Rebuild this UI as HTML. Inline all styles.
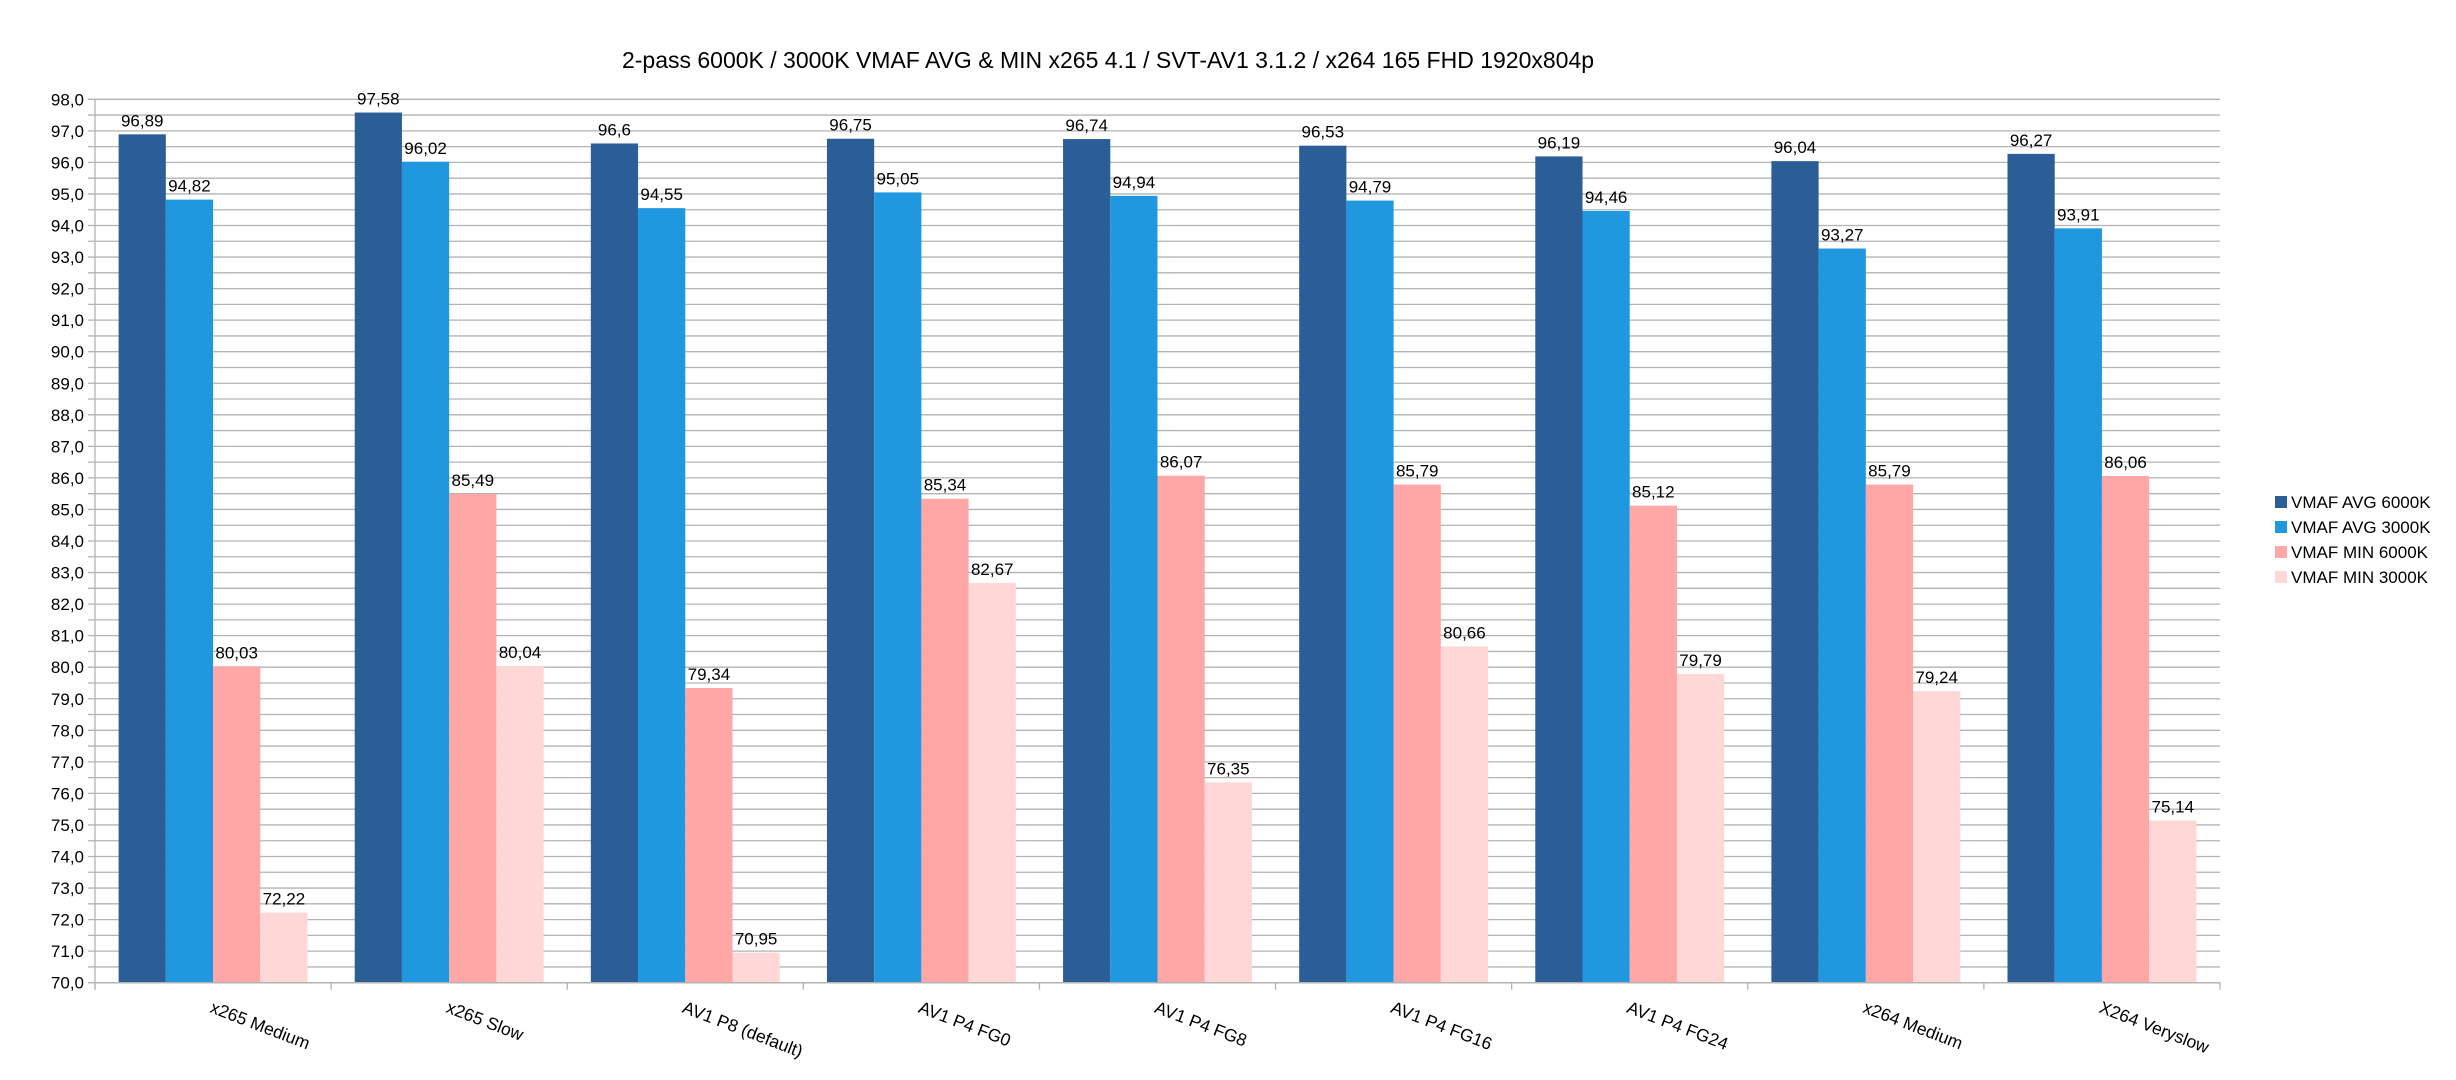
<!DOCTYPE html>
<html><head><meta charset="utf-8"><style>
html,body{margin:0;padding:0;background:#fff;}
svg{display:block;font-family:"Liberation Sans",sans-serif;}
</style></head><body>
<svg id="chart" width="2456" height="1080" viewBox="0 0 2456 1080" xmlns="http://www.w3.org/2000/svg">
<rect width="2456" height="1080" fill="#fff"/>
<text x="1108" y="68" font-size="23" text-anchor="middle" fill="#000">2-pass 6000K / 3000K VMAF AVG &amp; MIN x265 4.1 / SVT-AV1 3.1.2 / x264 165 FHD 1920x804p</text>
<g id="grid"></g><g id="bars"></g><g id="axes"></g><g id="legend"></g>
</svg>
<script>
const categories = ["x265 Medium","x265 Slow","AV1 P8 (default)","AV1 P4 FG0","AV1 P4 FG8","AV1 P4 FG16","AV1 P4 FG24","x264 Medium","X264 Veryslow"];
const seriesNames = ["VMAF AVG 6000K","VMAF AVG 3000K","VMAF MIN 6000K","VMAF MIN 3000K"];
const avg6000 = [96.89,97.58,96.6,96.75,96.74,96.53,96.19,96.04,96.27];
const avg3000 = [94.82,96.02,94.55,95.05,94.94,94.79,94.46,93.27,93.91];
const min6000 = [80.03,85.49,79.34,85.34,86.07,85.79,85.12,85.79,86.06];
const min3000 = [72.22,80.04,70.95,82.67,76.35,80.66,79.79,79.24,75.14];
const yTicks = [70,71,72,73,74,75,76,77,78,79,80,81,82,83,84,85,86,87,88,89,90,91,92,93,94,95,96,97,98];
const series = [avg6000, avg3000, min6000, min3000];
const colors = ["#2b5e97","#1f98e0","#ffa6a6","#ffd7d7"];
const NS="http://www.w3.org/2000/svg";
const L=95,R=2220,T=99.3,B=982.7,yMin=70,yMax=98;
const cw=(R-L)/categories.length;
function y(v){return B-(v-yMin)/(yMax-yMin)*(B-T);}
function x(i){return L+i*cw;}
function mk(tag,attrs,parent){const e=document.createElementNS(NS,tag);for(const k in attrs)e.setAttribute(k,attrs[k]);parent.appendChild(e);return e;}
const fmt=v=>String(v).replace('.',',');
const grid=document.getElementById('grid'),bars=document.getElementById('bars'),axes=document.getElementById('axes'),leg=document.getElementById('legend');
for(let v=yMin;v<=yMax+0.001;v+=0.5){
  const g=mk('line',{x1:L-7,x2:R,y1:y(v),y2:y(v),stroke:'#b3b3b3','stroke-width':1.3},grid);
  
  
}
yTicks.forEach(t=>{
  const tx=mk('text',{x:84,y:y(t)+6,'font-size':17,'text-anchor':'end',fill:'#000'},axes);
  tx.textContent=t.toFixed(1).replace('.',',');
  
  
});
mk('line',{x1:L,x2:L,y1:T,y2:B+7,stroke:'#b3b3b3','stroke-width':1.3},axes);
mk('line',{x1:L,x2:R,y1:B,y2:B,stroke:'#b3b3b3','stroke-width':1.5},axes);
for(let i=0;i<=categories.length;i++){mk('line',{x1:x(i),x2:x(i),y1:B,y2:B+7,stroke:'#b3b3b3','stroke-width':1.3},axes);}
categories.forEach((c,i)=>{
  const cx=x(i)+cw/2-4, cy=1012;
  const tx=mk('text',{x:cx,y:cy,'font-size':17.5,fill:'#000',transform:`rotate(21 ${cx} ${cy})`},axes);
  tx.textContent=c;
  
  
});
const bw=cw*0.2;
series.forEach((s,si)=>{
  s.forEach((v,i)=>{
    const bx=x(i)+cw*0.1+si*bw;
    const r=mk('rect',{x:bx,y:y(v),width:bw,height:B-y(v),fill:colors[si]},bars);
    
    
    const t=mk('text',{x:bx+bw/2,y:y(v)-8,'font-size':17,'text-anchor':'middle',fill:'#000'},bars);
    t.textContent=fmt(v);
    
    
  });
});
seriesNames.forEach((n,i)=>{
  const cy=502+i*25;
  const sq=mk('rect',{x:2275,y:cy-6,width:12,height:12,fill:colors[i]},leg);
  
  
  const t=mk('text',{x:2291,y:cy+6,'font-size':17,fill:'#000'},leg);
  t.textContent=n;
  
  
});
</script>
</body></html>
